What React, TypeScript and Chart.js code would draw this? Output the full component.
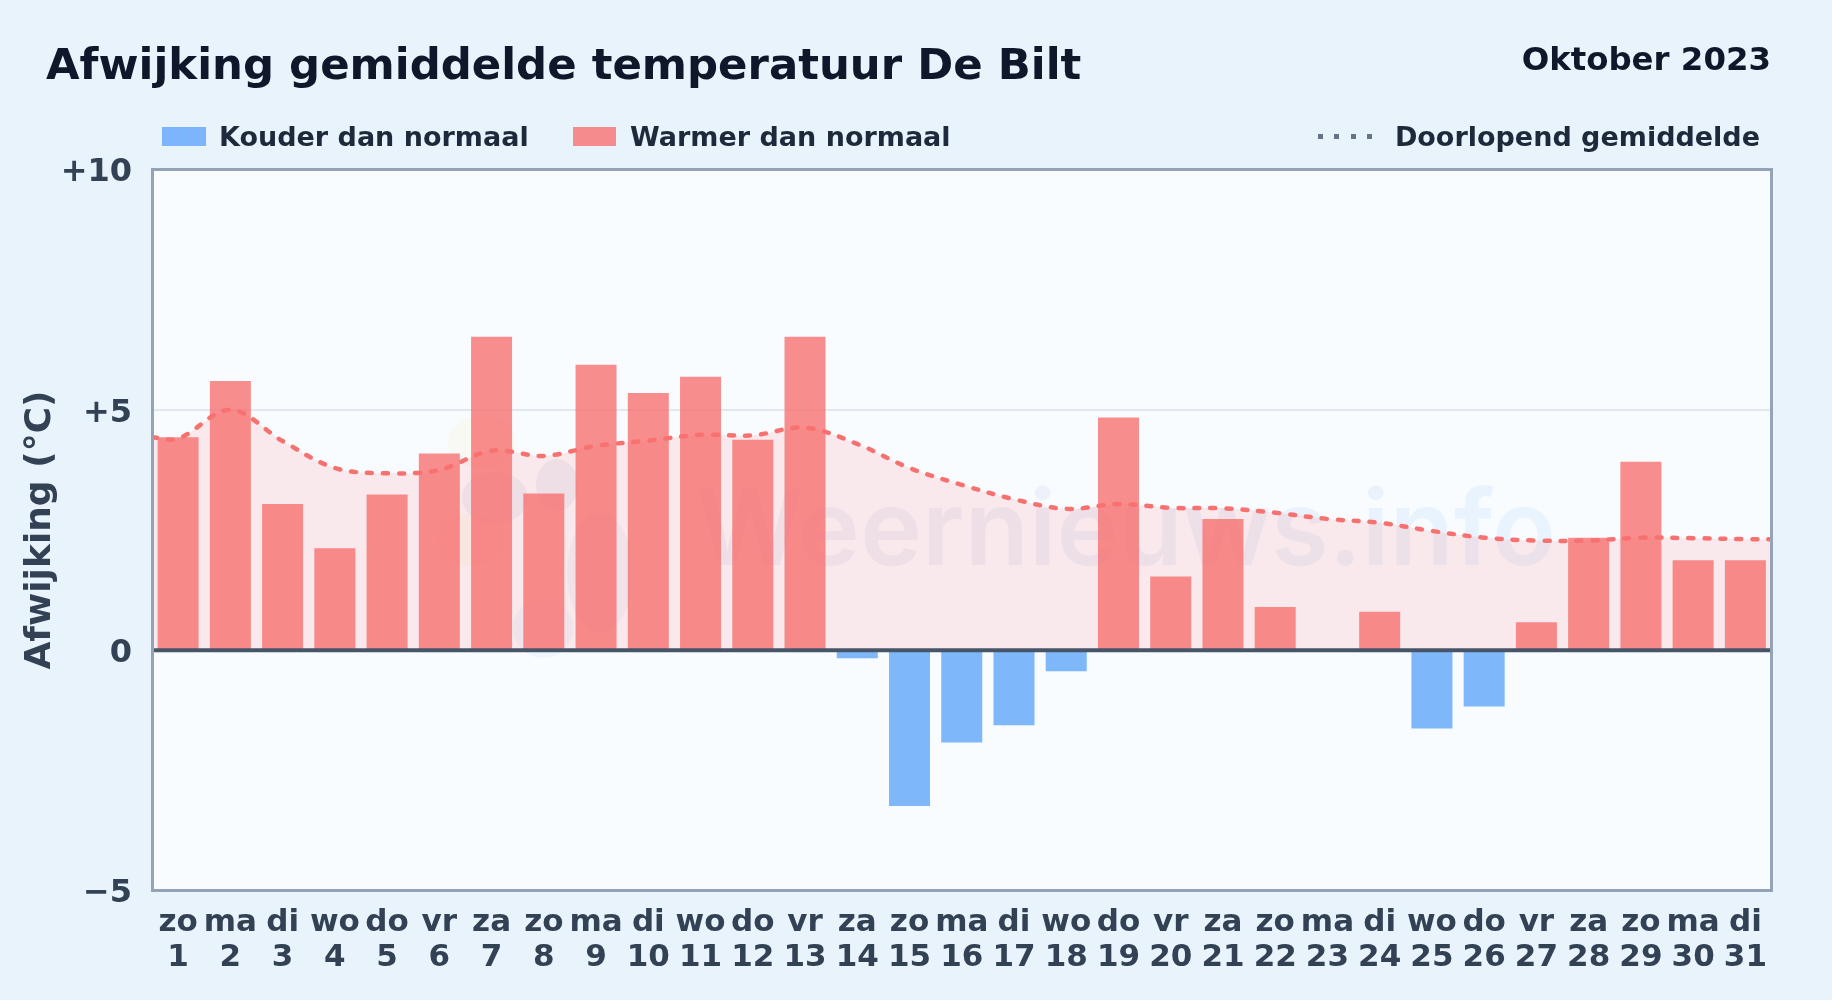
import React, { useEffect, useRef } from "react";
import { Chart, registerables } from "chart.js";

Chart.register(...registerables);

const FONT = '"DejaVu Sans", sans-serif';
const weekdays = ["zo","ma","di","wo","do","vr","za","zo","ma","di","wo","do","vr","za","zo","ma","di","wo","do","vr","za","zo","ma","di","wo","do","vr","za","zo","ma","di"];
const days = [1,2,3,4,5,6,7,8,9,10,11,12,13,14,15,16,17,18,19,20,21,22,23,24,25,26,27,28,29,30,31];
const warmer = [4.43,5.6,3.04,2.12,3.24,4.09,6.52,3.26,5.94,5.35,5.69,4.38,6.52,null,null,null,null,null,4.84,1.53,2.73,0.9,null,0.8,null,null,0.58,2.34,3.92,1.87,1.87];
const kouder = [null,null,null,null,null,null,null,null,null,null,null,null,null,-0.17,-3.24,-1.92,-1.56,-0.44,null,null,null,null,null,null,-1.63,-1.17,null,null,null,null,null];
const averageX = [0.5,1,2,3,4,5,6,7,8,9,10,11,12,13,14,15,16,17,18,19,20,21,22,23,24,25,26,27,28,29,30,31,31.5];
const averageY = [4.43,4.4,5.0,4.35,3.79,3.68,3.75,4.15,4.04,4.25,4.36,4.48,4.47,4.63,4.29,3.79,3.44,3.14,2.94,3.04,2.96,2.95,2.86,2.73,2.65,2.48,2.34,2.28,2.28,2.34,2.33,2.31,2.31];
const yTickLabels: Record<string, string> = { "10": "+10", "5": "+5", "0": "0", "-5": "\u22125" };

const plotDecor = {
  id: "plotDecor",
  beforeDraw(chart: any) {
    const { ctx, chartArea: a } = chart;
    ctx.save();
    ctx.fillStyle = "#f8fcff";
    ctx.fillRect(a.left, a.top, a.right - a.left, a.bottom - a.top);
    ctx.beginPath();
    ctx.rect(a.left, a.top, a.right - a.left, a.bottom - a.top);
    ctx.clip();
    const blobs: [number, number, number, number, string][] = [
      [482, 442, 34, 26, "rgba(250,204,21,0.05)"],
      [470, 540, 34, 26, "rgba(250,204,21,0.05)"],
      [495, 498, 33, 26, "rgba(100,116,180,0.08)"],
      [557, 485, 21, 26, "rgba(100,116,180,0.08)"],
      [600, 573, 33, 60, "rgba(100,116,180,0.06)"],
      [543, 628, 30, 30, "rgba(96,165,250,0.07)"],
    ];
    blobs.forEach(([x, y, rx, ry, c]) => {
      ctx.fillStyle = c;
      ctx.beginPath();
      ctx.ellipse(x, y, rx, ry, 0, 0, Math.PI * 2);
      ctx.fill();
    });
    const g = ctx.createLinearGradient(700, 0, 1550, 0);
    g.addColorStop(0, "rgba(110,80,170,0.075)");
    g.addColorStop(1, "rgba(70,160,240,0.09)");
    ctx.fillStyle = g;
    ctx.font = `600 105px Inter, ${FONT}`;
    ctx.textAlign = "left";
    ctx.textBaseline = "alphabetic";
    ctx.fillText("Weernieuws.info", 696, 565);
    ctx.restore();
  },
  afterDatasetsDraw(chart: any) {
    const { ctx, chartArea: a, scales } = chart;
    ctx.save();
    const zero = scales.y.getPixelForValue(0);
    ctx.strokeStyle = "#475569";
    ctx.lineWidth = 4;
    ctx.beginPath();
    ctx.moveTo(a.left, zero);
    ctx.lineTo(a.right, zero);
    ctx.stroke();
    ctx.strokeStyle = "#94a3b8";
    ctx.lineWidth = 3;
    ctx.strokeRect(a.left + 0.5, a.top, a.right - a.left - 0.5, a.bottom - a.top);
    ctx.restore();
  },
};

const abs = (style: React.CSSProperties): React.CSSProperties => ({
  position: "absolute",
  fontFamily: FONT,
  fontWeight: 700,
  whiteSpace: "nowrap",
  lineHeight: 1,
  ...style,
});

export default function App() {
  const ref = useRef<HTMLCanvasElement>(null);
  useEffect(() => {
    document.body.style.margin = "0";
    const chart = new Chart(ref.current!, {
      type: "bar",
      plugins: [plotDecor],
      data: {
        datasets: [
          {
            type: "line",
            label: "Doorlopend gemiddelde",
            data: averageX.map((x, i) => ({ x, y: averageY[i] })),
            borderColor: "#f87171",
            borderWidth: 4.5,
            borderDash: [5, 11],
            borderCapStyle: "round",
            tension: 0.35,
            pointRadius: 0,
            fill: { target: { value: 0 }, above: "rgba(252,110,110,0.135)" },
            order: 0,
          },
          {
            label: "Warmer dan normaal",
            data: days.map((x, i) => ({ x, y: warmer[i] })),
            backgroundColor: "rgba(248,113,113,0.8)",
            grouped: false,
            categoryPercentage: 1,
            barPercentage: 0.785,
            order: 1,
          },
          {
            label: "Kouder dan normaal",
            data: days.map((x, i) => ({ x, y: kouder[i] })),
            backgroundColor: "rgba(96,165,250,0.8)",
            grouped: false,
            categoryPercentage: 1,
            barPercentage: 0.785,
            order: 1,
          },
        ],
      } as any,
      options: {
        responsive: false,
        animation: false,
        devicePixelRatio: 1,
        layout: { padding: { left: 0, top: 169.5, right: 60.5, bottom: 0 } },
        plugins: {
          legend: { display: false },
          tooltip: { enabled: false },
          filler: { drawTime: "beforeDatasetsDraw" },
        },
        scales: {
          x: {
            type: "linear",
            offset: false,
            min: 0.5,
            max: 31.5,
            afterFit(s: any) {
              s.height = 109.5;
            },
            afterBuildTicks(s: any) {
              s.ticks = days.map((value) => ({ value }));
            },
            grid: { display: false, drawTicks: false },
            border: { display: false },
            ticks: {
              autoSkip: false,
              maxRotation: 0,
              minRotation: 0,
              padding: 15,
              color: "#334155",
              font: { family: FONT, size: 31, weight: "bold", lineHeight: 1.12 },
              callback: (v: any) => [weekdays[v - 1], String(v)],
            },
          },
          y: {
            min: -5,
            max: 10,
            afterFit(s: any) {
              s.width = 152;
            },
            grid: {
              color: (c: any) => (c.tick.value === 5 ? "#e2e8f0" : "rgba(0,0,0,0)"),
              lineWidth: 2,
              drawTicks: false,
            },
            border: { display: false },
            ticks: {
              stepSize: 5,
              padding: 20,
              labelOffset: 3.5,
              color: "#334155",
              font: { family: FONT, size: 32, weight: "bold" },
              callback: (v: any) => yTickLabels[String(v)],
            },
            title: {
              display: true,
              text: "Afwijking (\u00b0C)",
              color: "#334155",
              font: { family: FONT, size: 36, weight: "bold" },
              padding: { top: 19, bottom: 0 },
            },
          },
        },
      } as any,
    });
    return () => chart.destroy();
  }, []);

  const swatch = (left: number, width: number, background: string) => (
    <div style={{ position: "absolute", left, top: 127, width, height: 19, background }} />
  );
  const legendText: React.CSSProperties = { top: 123, fontSize: 27, color: "#1e293b" };
  return (
    <div style={{ position: "relative", width: 1832, height: 1000, overflow: "hidden", background: "#e8f3fc" }}>
      <canvas ref={ref} width={1832} height={1000} style={{ display: "block", position: "absolute", left: 0, top: 0 }} />
      <div style={abs({ left: 46, top: 43, fontSize: 43.4, color: "#0f172a" })}>Afwijking gemiddelde temperatuur De Bilt</div>
      <div style={abs({ right: 61, top: 43, fontSize: 32.4, color: "#0f172a" })}>Oktober 2023</div>
      {swatch(162, 44, "rgba(96,165,250,0.8)")}
      <div style={abs({ left: 219, ...legendText })}>Kouder dan normaal</div>
      {swatch(573, 43, "rgba(248,113,113,0.8)")}
      <div style={abs({ left: 630, ...legendText })}>Warmer dan normaal</div>
      {[1318, 1334, 1351, 1367].map((left) => (
        <div key={left} style={{ position: "absolute", left, top: 134, width: 5, height: 5, background: "#64748b" }} />
      ))}
      <div style={abs({ right: 72, ...legendText })}>Doorlopend gemiddelde</div>
    </div>
  );
}
